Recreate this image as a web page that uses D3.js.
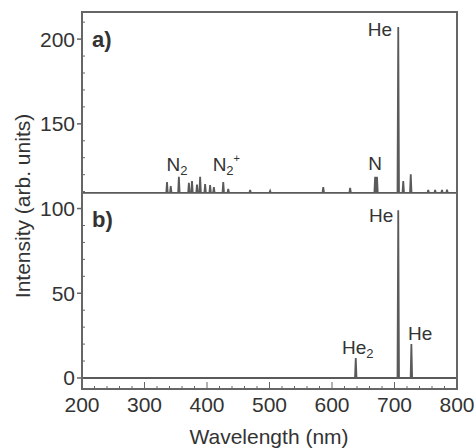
<!DOCTYPE html>
<html><head><meta charset="utf-8">
<script src="https://cdn.jsdelivr.net/npm/d3@7"></script>
<style>body{margin:0;background:#fff}svg{display:block}text{font-family:"Liberation Sans",Arial,sans-serif;fill:#333}</style>
</head><body><svg id="c" width="476" height="448"></svg>
<script>
// Panel a) spectrum (offset baseline) – peak wavelengths (nm) and heights above baseline
const aOffset = 109.2;
const aWavelengths = [336,342,355,371,376,384,389,397,405,411,426,434,469,501,586,629,669,672,706,714,726,754,765,776,784];
const aHeights     = [6.5,4,9.5,6,7,5,9.5,5.3,4.7,3.5,6.5,2.4,1.8,1.2,3.5,3,9.5,9.5,98,7,11,1.8,1.8,1.8,2];
// Panel b) spectrum
const bWavelengths = [638,706,727];
const bHeights     = [11.8,99,20];
// Axis ticks
const xTicks = [200,300,400,500,600,700,800];
const yTicks = [0,50,100,150,200];
// Annotations: [text, subscript, superscript, wavelength, value, anchor]
const labels = [
  ["N","2","",352,126,"middle"],
  ["N","2","+",409,126,"start"],
  ["N","","",669,127,"middle"],
  ["He","","",696,206,"end"],
  ["He","","",698,96,"end"],
  ["He","2","",616,18,"start"],
  ["He","","",741,26.5,"middle"]
];
const panelLabels = [["a)",200],["b)",94]];

const svg = d3.select("#c");
const x = d3.scaleLinear().domain([200,800]).range([82,457]);
const y = d3.scaleLinear().domain([-6.5,216]).range([389,12]);
const stroke = "#5a5a5a";

function spectrum(wls, hs, base){
  const pts = [[200, base]];
  const order = d3.range(wls.length).sort((i,j)=>wls[i]-wls[j]);
  order.forEach(i=>{
    pts.push([wls[i]-1.2, base]);
    pts.push([wls[i], base+hs[i]]);
    pts.push([wls[i]+1.2, base]);
  });
  pts.push([800, base]);
  return pts;
}
const line = d3.line().x(d=>x(d[0])).y(d=>y(d[1]));
svg.append("path").attr("d", line(spectrum(aWavelengths,aHeights,aOffset)))
  .attr("fill","none").attr("stroke",stroke).attr("stroke-width",1.8);
svg.append("path").attr("d", line(spectrum(bWavelengths,bHeights,0)))
  .attr("fill","none").attr("stroke",stroke).attr("stroke-width",1.8);

// minor ticks
const g = svg.append("g").attr("stroke","#666").attr("stroke-width",1);
d3.range(200,801,20).forEach(v=>{
  g.append("line").attr("x1",x(v)).attr("x2",x(v)).attr("y1",389).attr("y2",v%100===0?382:386);
});
d3.range(0,211,10).forEach(v=>{
  if(v%50===0) return;
  g.append("line").attr("x1",82).attr("x2",85).attr("y1",y(v)).attr("y2",y(v));
});
// y major ticks (outward)
yTicks.forEach(v=>{
  g.append("line").attr("x1",77).attr("x2",82).attr("y1",y(v)).attr("y2",y(v)).attr("stroke-width",1.5);
});
// frame
svg.append("rect").attr("x",82).attr("y",12).attr("width",375).attr("height",377)
  .attr("fill","none").attr("stroke","#666").attr("stroke-width",2);

// tick labels
svg.selectAll(".xt").data(xTicks).enter().append("text")
  .attr("x",d=>x(d)).attr("y",412).attr("text-anchor","middle").attr("font-size",21).text(d=>d);
svg.selectAll(".yt").data(yTicks).enter().append("text")
  .attr("x",75).attr("y",d=>y(d)+7.5).attr("text-anchor","end").attr("font-size",21).text(d=>d);

// axis titles
svg.append("text").attr("x",269).attr("y",444).attr("text-anchor","middle").attr("font-size",21).text("Wavelength (nm)");
svg.append("text").attr("transform","translate(30,206) rotate(-90)").attr("text-anchor","middle").attr("font-size",21).text("Intensity (arb. units)");

// panel labels
panelLabels.forEach(p=>{
  svg.append("text").attr("x",92).attr("y",y(p[1])+8).attr("font-size",22).attr("font-weight","bold").text(p[0]);
});

// annotations
labels.forEach(l=>{
  const t = svg.append("text").attr("x",x(l[3])).attr("y",y(l[4])+7).attr("text-anchor",l[5]).attr("font-size",19);
  t.append("tspan").text(l[0]);
  if(l[1]) t.append("tspan").attr("font-size",13).attr("dy",4).text(l[1]);
  if(l[2]) t.append("tspan").attr("font-size",11).attr("dy",-13).text(l[2]);
});
</script></body></html>
